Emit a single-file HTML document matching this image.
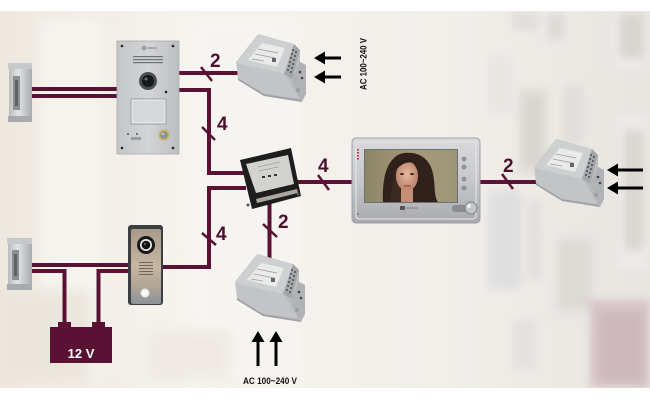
<!DOCTYPE html>
<html><head><meta charset="utf-8">
<style>
html,body{margin:0;padding:0;background:#fff;}
svg{display:block;}
text{font-family:"Liberation Sans",sans-serif;}
</style></head>
<body>
<svg width="650" height="400" viewBox="0 0 650 400" xmlns="http://www.w3.org/2000/svg">
<defs>
  <linearGradient id="bg" x1="0" x2="1" y1="0" y2="0">
    <stop offset="0" stop-color="#eee8df"/>
    <stop offset="0.3" stop-color="#f6f3ee"/>
    <stop offset="0.68" stop-color="#f2efeb"/>
    <stop offset="1" stop-color="#e8e4e0"/>
  </linearGradient>
  <filter id="b3" x="-30%" y="-30%" width="160%" height="160%"><feGaussianBlur stdDeviation="4"/></filter>
  <filter id="b6" x="-30%" y="-30%" width="160%" height="160%"><feGaussianBlur stdDeviation="6"/></filter>
  <linearGradient id="panelg" x1="0" y1="0" x2="1" y2="0">
    <stop offset="0" stop-color="#c4c6c8"/><stop offset="0.5" stop-color="#d3d4d6"/><stop offset="1" stop-color="#bcbec1"/>
  </linearGradient>
  <linearGradient id="lockg" x1="0" y1="0" x2="1" y2="0">
    <stop offset="0" stop-color="#b9bbbe"/><stop offset="0.4" stop-color="#e2e3e4"/><stop offset="1" stop-color="#a9abae"/>
  </linearGradient>
  <linearGradient id="doorg" x1="0" y1="0" x2="0" y2="1">
    <stop offset="0" stop-color="#a89a8a"/><stop offset="0.5" stop-color="#c6b6a2"/><stop offset="0.75" stop-color="#b2a594"/><stop offset="1" stop-color="#8c929a"/>
  </linearGradient>
  <linearGradient id="monf" x1="0" y1="0" x2="0" y2="1">
    <stop offset="0" stop-color="#d9dadc"/><stop offset="0.5" stop-color="#c7c8ca"/><stop offset="1" stop-color="#a8aaad"/>
  </linearGradient>
  <linearGradient id="scr" x1="0" y1="0" x2="1" y2="0">
    <stop offset="0" stop-color="#8d8568"/><stop offset="0.5" stop-color="#a49a7a"/><stop offset="1" stop-color="#9c9678"/>
  </linearGradient>
  <radialGradient id="face" cx="0.5" cy="0.45" r="0.55">
    <stop offset="0" stop-color="#e4b89c"/><stop offset="1" stop-color="#b9826a"/>
  </radialGradient>
  <linearGradient id="trg" x1="0" y1="0" x2="1" y2="1">
    <stop offset="0" stop-color="#cfd1d3"/><stop offset="1" stop-color="#b1b3b6"/>
  </linearGradient>

  <g id="tr">
    <polygon points="2,30 24,2 60,12 66,18 66,30 72,33 72,62 68,70 30,62 4,46" fill="url(#trg)"/>
    <polygon points="3,31 50,42 66,67 30,62 4,46" fill="#c2c4c6"/>
    <polygon points="4,46 30,62 66,68 68,70 30,64 4,48" fill="#9ea0a3"/>
    <polygon points="3,31 24,3 60,12 50,42" fill="#cdcfd1"/>
    <polygon points="14,28 28,11 51,16 43,35" fill="#e9eaea"/>
    <line x1="24" y1="17" x2="44" y2="21" stroke="#9a9a9a" stroke-width="0.8"/>
    <line x1="21" y1="22" x2="41" y2="26" stroke="#9a9a9a" stroke-width="0.8"/>
    <line x1="18" y1="27" x2="30" y2="29" stroke="#9a9a9a" stroke-width="0.8"/>
    <rect x="38" y="26" width="4" height="4" fill="#666"/>
    <polygon points="50,42 60,12 66,18 58,47" fill="#a4a6a9"/>
    <g fill="#333">
      <circle cx="59" cy="18" r="0.9"/><circle cx="58" cy="22" r="0.9"/><circle cx="57" cy="26" r="0.9"/>
      <circle cx="56" cy="30" r="0.9"/><circle cx="55" cy="34" r="0.9"/><circle cx="54" cy="38" r="0.9"/>
      <circle cx="62" cy="20" r="0.9"/><circle cx="61" cy="24" r="0.9"/><circle cx="60" cy="28" r="0.9"/>
      <circle cx="59" cy="32" r="0.9"/><circle cx="58" cy="36" r="0.9"/><circle cx="57" cy="40" r="0.9"/>
    </g>
    <polygon points="58,47 66,30 72,33 72,62 66,68" fill="#b0b2b5"/>
    <circle cx="66" cy="40" r="1.3" fill="#444"/>
    <circle cx="68" cy="46" r="1.3" fill="#444"/>
    <circle cx="64" cy="58" r="2" fill="#9a9ca0"/>
  </g>
</defs>

<!-- background -->
<rect x="0" y="0" width="650" height="400" fill="#ffffff"/>
<rect x="0" y="11" width="650" height="377" fill="url(#bg)"/>
<g filter="url(#b6)" opacity="0.75">
  <rect x="40" y="20" width="60" height="360" fill="#f8f6f2"/>
  <rect x="190" y="20" width="110" height="360" fill="#f7f5f1"/>
  <rect x="0" y="290" width="90" height="90" fill="#e9e4dc"/>
  <rect x="150" y="330" width="80" height="50" fill="#ece7e0"/>
</g>
<g filter="url(#b3)" opacity="0.5">
  <rect x="512" y="12" width="26" height="18" fill="#d3d0cd"/>
  <rect x="540" y="12" width="28" height="33" fill="#e9e7e4"/>
  <rect x="548" y="14" width="16" height="26" fill="#cfcbc7"/>
  <rect x="613" y="12" width="37" height="58" fill="#f0eeeb"/>
  <rect x="620" y="14" width="24" height="44" fill="#c8c4c0"/>
  <rect x="487" y="55" width="26" height="60" fill="#e4e1de"/>
  <rect x="518" y="88" width="30" height="87" fill="#d4d0cc"/>
  <rect x="524" y="96" width="18" height="70" fill="#c4bfba"/>
  <rect x="562" y="85" width="22" height="60" fill="#d8d5d2"/>
  <rect x="617" y="115" width="33" height="155" fill="#f1efec"/>
  <rect x="624" y="130" width="20" height="120" fill="#cdc9c5"/>
  <rect x="487" y="190" width="35" height="100" fill="#d2d4d8"/>
  <rect x="527" y="200" width="14" height="80" fill="#d8d6d4"/>
  <rect x="550" y="230" width="50" height="90" fill="#e6e3e0"/>
  <rect x="558" y="240" width="34" height="70" fill="#d0ccc8"/>
  <rect x="513" y="320" width="24" height="50" fill="#dbd8d5"/>
</g>
<g filter="url(#b3)" opacity="0.55">
  <rect x="590" y="300" width="60" height="88" fill="#c7aab2"/>
  <rect x="598" y="312" width="45" height="70" fill="#b8949e"/>
</g>
<rect x="0" y="0" width="650" height="11" fill="#ffffff"/>
<rect x="0" y="388" width="650" height="12" fill="#ffffff"/>

<!-- wires -->
<g stroke="#5a1234" stroke-width="4" fill="none" stroke-linejoin="miter">
  <line x1="30" y1="89" x2="118" y2="89"/>
  <line x1="30" y1="96" x2="118" y2="96"/>
  <line x1="178" y1="73" x2="242" y2="73"/>
  <polyline points="178,90 209,90 209,173 246,173"/>
  <polyline points="246,188 209,188 209,267 162,267"/>
  <line x1="294" y1="182" x2="354" y2="182"/>
  <line x1="269.5" y1="198" x2="269.5" y2="258"/>
  <line x1="478" y1="182" x2="538" y2="182"/>
  <line x1="30" y1="265" x2="130" y2="265"/>
  <polyline points="30,271 64.5,271 64.5,324"/>
  <polyline points="130,271 98.5,271 98.5,324"/>
</g>
<!-- ticks -->
<g stroke="#5a1234" stroke-width="2.5">
  <line x1="201" y1="67" x2="212" y2="81"/>
  <line x1="202" y1="127" x2="215" y2="140"/>
  <line x1="318" y1="175" x2="329" y2="190"/>
  <line x1="502" y1="174" x2="513" y2="189"/>
  <line x1="202" y1="233" x2="216" y2="245"/>
  <line x1="263" y1="224" x2="277" y2="237"/>
</g>
<g fill="#4e0f2e" font-weight="bold" font-size="19">
  <text x="210" y="67">2</text>
  <text x="217" y="130">4</text>
  <text x="318" y="172">4</text>
  <text x="503" y="172">2</text>
  <text x="216" y="240">4</text>
  <text x="278" y="228">2</text>
</g>

<!-- lock 1 -->
<g>
  <rect x="9" y="63" width="23" height="59" rx="2" fill="url(#lockg)"/>
  <rect x="8" y="63" width="24" height="6" fill="#c7c8ca"/>
  <rect x="8" y="116" width="24" height="6" fill="#a8aaad"/>
  <rect x="13" y="76" width="7" height="34" fill="#8c8e91"/>
  <rect x="15" y="80" width="3" height="26" fill="#5f6164"/>
</g>
<!-- lock 2 -->
<g>
  <rect x="8" y="238" width="24" height="52" rx="2" fill="url(#lockg)"/>
  <rect x="7" y="238" width="25" height="6" fill="#c7c8ca"/>
  <rect x="7" y="284" width="25" height="6" fill="#a8aaad"/>
  <rect x="12" y="250" width="7" height="30" fill="#8c8e91"/>
  <rect x="14" y="254" width="3" height="22" fill="#5f6164"/>
</g>

<!-- panel -->
<g>
  <rect x="117" y="41" width="62" height="113" fill="url(#panelg)" stroke="#a9abae" stroke-width="0.8"/>
  <circle cx="122" cy="46" r="1.3" fill="#222"/><circle cx="173" cy="46" r="1.3" fill="#222"/>
  <circle cx="122" cy="148" r="1.3" fill="#222"/><circle cx="173" cy="148" r="1.3" fill="#222"/>
  <circle cx="144" cy="48" r="2.5" fill="#9c9ea1"/>
  <rect x="147" y="47" width="10" height="2" fill="#a9abae"/>
  <g fill="#6f7174">
    <rect x="133" y="56" width="30" height="1.2"/>
    <rect x="133" y="59" width="30" height="1.2"/>
    <rect x="133" y="62" width="30" height="1.2"/>
  </g>
  <circle cx="148" cy="81" r="9" fill="#4a4c50"/>
  <circle cx="148" cy="81" r="6" fill="#17181a"/>
  <circle cx="146" cy="79" r="1.5" fill="#6d7075"/>
  <circle cx="166" cy="92" r="1.3" fill="#222"/>
  <rect x="131" y="99" width="35" height="25" fill="#e5e6e7" stroke="#9fa1a4" stroke-width="1"/>
  <rect x="133" y="101" width="31" height="21" fill="#d6d7d9"/>
  <circle cx="128" cy="134" r="0.9" fill="#333"/><circle cx="137" cy="134" r="0.9" fill="#333"/>
  <rect x="131" y="137" width="10" height="3" fill="#9a9ca0"/>
  <circle cx="164" cy="135" r="5.5" fill="#c9b45a"/>
  <circle cx="164" cy="135" r="3.8" fill="#8d8f93"/>
  <circle cx="163" cy="134" r="1.4" fill="#c4c6c9"/>
</g>

<!-- splitter -->
<g>
  <polygon points="240,160 291,148 301,196 252,209" fill="#1d1d1e"/>
  <polygon points="246,164 288,155 294,184 256,193" fill="#d2d2ce"/>
  <polygon points="256,199 297,189 298,193 257,203" fill="#a9a79f"/>
  <g fill="#333"><rect x="262" y="176" width="3" height="2"/><rect x="268" y="175" width="3" height="2"/><rect x="274" y="174" width="3" height="2"/></g>
  <line x1="258" y1="167" x2="280" y2="162" stroke="#888" stroke-width="0.6"/>
  <line x1="259" y1="171" x2="278" y2="167" stroke="#888" stroke-width="0.6"/>
  <circle cx="248" cy="205" r="1.5" fill="#555"/><circle cx="298" cy="194" r="1.5" fill="#555"/>
</g>

<!-- transformers -->
<use href="#tr" x="234" y="32"/>
<use href="#tr" x="532" y="137"/>
<use href="#tr" x="233" y="252"/>

<!-- arrows -->
<g stroke="#000" stroke-width="3">
  <line x1="322" y1="58" x2="341" y2="58"/>
  <line x1="322" y1="77" x2="341" y2="77"/>
  <line x1="615" y1="170" x2="643" y2="170"/>
  <line x1="615" y1="188" x2="643" y2="188"/>
  <line x1="258" y1="339" x2="258" y2="366"/>
  <line x1="276" y1="339" x2="276" y2="366"/>
</g>
<g fill="#000">
  <polygon points="314,58 325,51.5 325,64.5"/>
  <polygon points="314,77 325,70.5 325,83.5"/>
  <polygon points="607,170 618,163.5 618,176.5"/>
  <polygon points="607,188 618,181.5 618,194.5"/>
  <polygon points="258,331 251.5,342 264.5,342"/>
  <polygon points="276,331 269.5,342 282.5,342"/>
</g>
<text x="270" y="384" font-size="9" font-weight="bold" fill="#111" text-anchor="middle" textLength="54" lengthAdjust="spacingAndGlyphs">AC 100~240 V</text>
<text transform="translate(366.5,64) rotate(-90)" x="0" y="0" font-size="9" font-weight="bold" fill="#111" text-anchor="middle" textLength="52" lengthAdjust="spacingAndGlyphs">AC 100~240 V</text>

<!-- door station -->
<g>
  <rect x="128" y="225" width="35" height="80" rx="3" fill="#3d3e41"/>
  <rect x="131" y="229" width="30" height="75" rx="2" fill="url(#doorg)"/>
  <circle cx="146" cy="245" r="9" fill="#1a1a1c"/>
  <circle cx="146" cy="245" r="6" fill="#e8e8ea"/>
  <circle cx="146" cy="245" r="4.3" fill="#111"/>
  <circle cx="145" cy="244" r="1.2" fill="#556"/>
  <g fill="#6f6456">
    <rect x="139" y="262" width="14" height="1"/><rect x="139" y="265" width="14" height="1"/>
    <rect x="139" y="268" width="14" height="1"/><rect x="139" y="271" width="14" height="1"/>
    <rect x="139" y="274" width="14" height="1"/>
  </g>
  <circle cx="145" cy="293" r="4.5" fill="#e9e9ea"/>
  <circle cx="145" cy="293" r="3" fill="#fafafa"/>
</g>

<!-- battery -->
<g>
  <rect x="58" y="322" width="13" height="6" fill="#5a1234"/>
  <rect x="92" y="322" width="13" height="6" fill="#5a1234"/>
  <rect x="50" y="327" width="62" height="36" fill="#5a1234"/>
  <text x="81" y="358" font-size="13" font-weight="bold" fill="#fff" text-anchor="middle">12 V</text>
</g>

<!-- monitor -->
<g>
  <rect x="352" y="138" width="128" height="85" rx="4" fill="url(#monf)" stroke="#9ea0a3" stroke-width="1"/>
  <rect x="356" y="142" width="120" height="77" rx="3" fill="none" stroke="#e6e7e8" stroke-width="1"/>
  <rect x="364" y="149" width="94" height="54" fill="#6e6f72"/>
  <rect x="365" y="150" width="92" height="52" fill="url(#scr)"/>
  <path d="M383,202 C382,180 386,160 400,154 C414,150 428,156 432,170 C436,182 433,195 438,202 Z" fill="#2f211b"/>
  <path d="M390,202 C392,190 394,176 396,168 L402,200 Z" fill="#3b2a21"/>
  <ellipse cx="407" cy="176" rx="11" ry="15" fill="url(#face)"/>
  <path d="M396,170 C398,158 412,155 420,166 C414,161 404,160 396,170 Z" fill="#2a1c16"/>
  <rect x="401" y="189" width="12" height="13" fill="#c58d74"/>
  <ellipse cx="402" cy="174" rx="2" ry="1" fill="#3a2a22"/>
  <ellipse cx="412" cy="174" rx="2" ry="1" fill="#3a2a22"/>
  <rect x="404" y="185" width="7" height="1.6" fill="#a8584e"/>
  <g fill="#c23a3a"><rect x="357" y="149" width="2" height="1.5"/><rect x="357" y="152" width="2" height="1.5"/><rect x="357" y="155" width="2" height="1.5"/><rect x="357" y="158" width="2" height="1.5"/></g>
  <g fill="#9a9ca0" stroke="#6e7074" stroke-width="0.6">
    <circle cx="464" cy="159" r="2"/><circle cx="464" cy="167" r="2"/><circle cx="464" cy="179" r="2"/><circle cx="464" cy="188" r="2"/>
  </g>
  <rect x="400" y="206" width="5" height="4" fill="#555"/>
  <rect x="406" y="207" width="12" height="2" fill="#999"/>
  <rect x="452" y="205" width="18" height="7" rx="3" fill="#8a8c90"/>
  <circle cx="471" cy="208" r="6" fill="#c3c5c8" stroke="#7d7f83" stroke-width="1"/>
  <circle cx="469" cy="206" r="2" fill="#eeeff0"/>
  <circle cx="358" cy="214" r="0.8" fill="#555"/>
</g>
</svg>
</body></html>
